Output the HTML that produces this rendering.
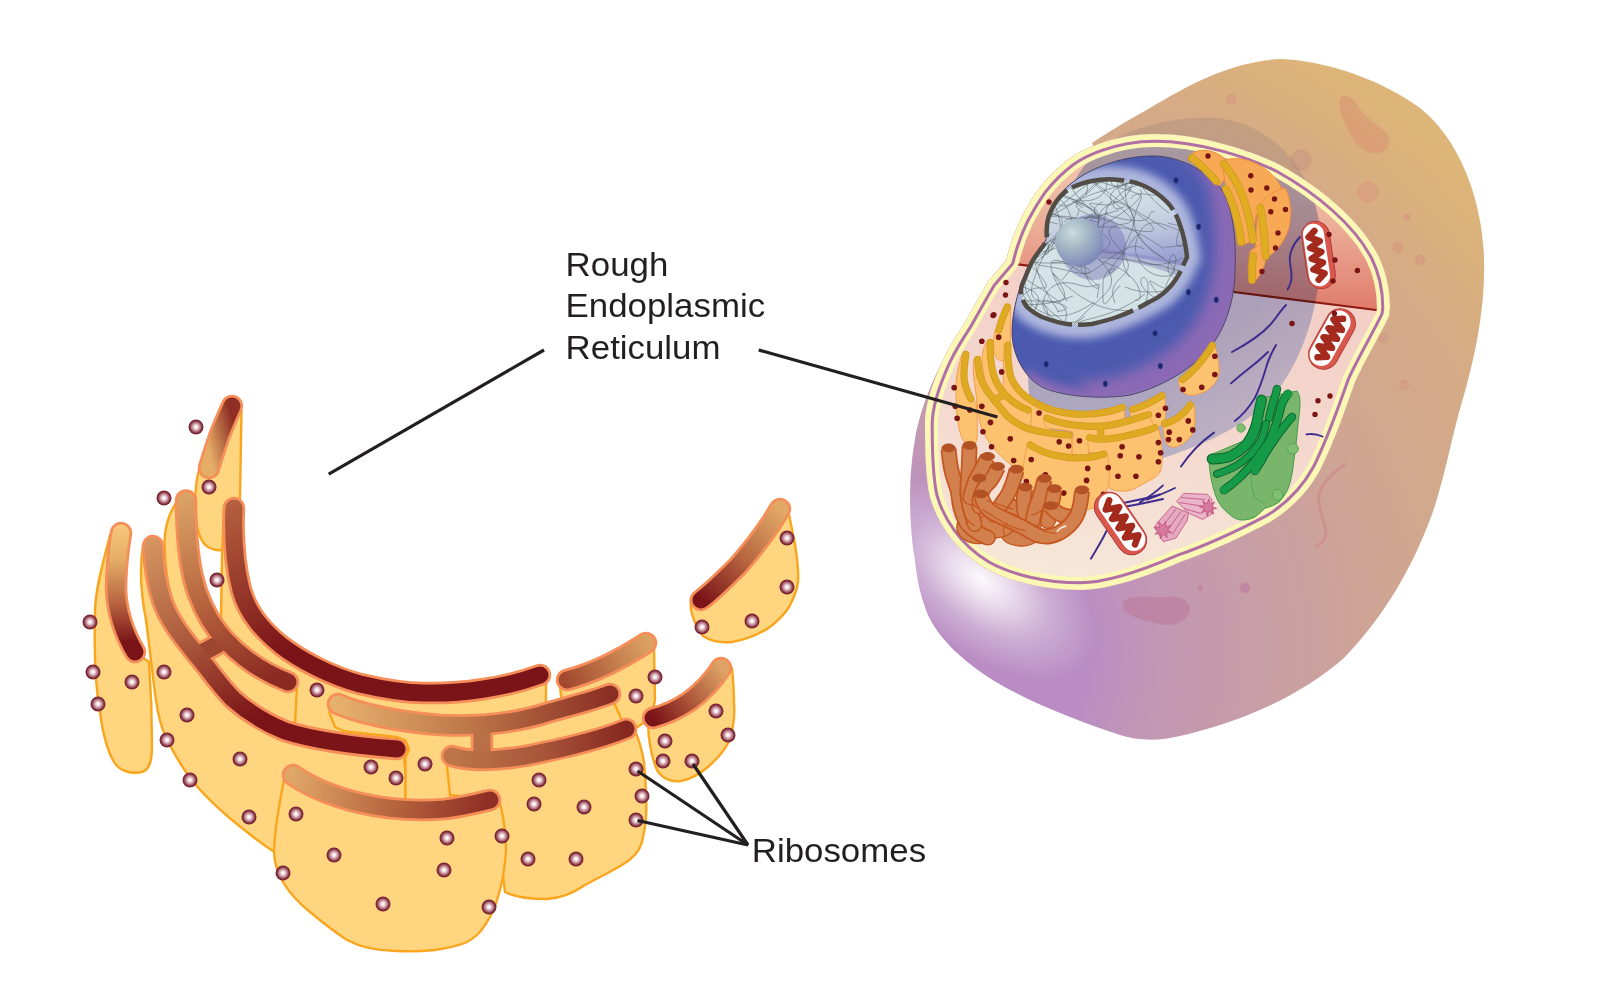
<!DOCTYPE html>
<html lang="en"><head><meta charset="utf-8"><title>Rough Endoplasmic Reticulum</title>
<style>html,body{margin:0;padding:0;background:#fff}svg{display:block}</style></head>
<body>
<svg width="1600" height="1006" viewBox="0 0 1600 1006">
<defs>
<linearGradient id="lgA" gradientUnits="userSpaceOnUse" x1="206" y1="440" x2="236" y2="432"><stop offset="0" stop-color="#E4AC66"/><stop offset="1" stop-color="#8E2E24"/></linearGradient>
<linearGradient id="lgB" gradientUnits="userSpaceOnUse" x1="120" y1="528" x2="130" y2="655"><stop offset="0" stop-color="#F6C578"/><stop offset="0.25" stop-color="#E4AC66"/><stop offset="0.6" stop-color="#B5603E"/><stop offset="0.9" stop-color="#7A1418"/></linearGradient>
<linearGradient id="lgE" gradientUnits="userSpaceOnUse" x1="234" y1="500" x2="330" y2="670"><stop offset="0" stop-color="#B5603E"/><stop offset="0.8" stop-color="#7A1418"/><stop offset="1" stop-color="#7A1418"/></linearGradient>
<linearGradient id="lgD" gradientUnits="userSpaceOnUse" x1="186" y1="495" x2="270" y2="680"><stop offset="0" stop-color="#DCA366"/><stop offset="0.5" stop-color="#B8663F"/><stop offset="1" stop-color="#8A2A22"/></linearGradient>
<linearGradient id="lgC" gradientUnits="userSpaceOnUse" x1="152" y1="540" x2="270" y2="720"><stop offset="0" stop-color="#D49560"/><stop offset="0.5" stop-color="#A9563A"/><stop offset="0.95" stop-color="#7A1418"/><stop offset="1" stop-color="#7A1418"/></linearGradient>
<linearGradient id="lgCD" gradientUnits="userSpaceOnUse" x1="152" y1="540" x2="270" y2="720"><stop offset="0" stop-color="#9C4631"/><stop offset="1" stop-color="#9C4631"/></linearGradient>
<linearGradient id="lgI" gradientUnits="userSpaceOnUse" x1="565" y1="680" x2="648" y2="642"><stop offset="0" stop-color="#A2492F"/><stop offset="1" stop-color="#DDA262"/></linearGradient>
<linearGradient id="lgG" gradientUnits="userSpaceOnUse" x1="338" y1="704" x2="610" y2="694"><stop offset="0" stop-color="#E6B06C"/><stop offset="0.45" stop-color="#C07A4A"/><stop offset="1" stop-color="#8B2F24"/></linearGradient>
<linearGradient id="lgH" gradientUnits="userSpaceOnUse" x1="452" y1="756" x2="626" y2="729"><stop offset="0" stop-color="#BD7547"/><stop offset="0.5" stop-color="#A9563A"/><stop offset="1" stop-color="#86281F"/></linearGradient>
<linearGradient id="lgGH" gradientUnits="userSpaceOnUse" x1="338" y1="704" x2="610" y2="694"><stop offset="0" stop-color="#BA7046"/><stop offset="1" stop-color="#BA7046"/></linearGradient>
<linearGradient id="lgF" gradientUnits="userSpaceOnUse" x1="293" y1="775" x2="490" y2="800"><stop offset="0" stop-color="#DFA667"/><stop offset="0.5" stop-color="#B8663F"/><stop offset="1" stop-color="#8E2E24"/></linearGradient>
<linearGradient id="lgJ" gradientUnits="userSpaceOnUse" x1="701" y1="600" x2="780" y2="510"><stop offset="0" stop-color="#7A1418"/><stop offset="0.5" stop-color="#B8663F"/><stop offset="1" stop-color="#E1A866"/></linearGradient>
<linearGradient id="lgK" gradientUnits="userSpaceOnUse" x1="653" y1="718" x2="721" y2="668"><stop offset="0" stop-color="#7A1418"/><stop offset="0.5" stop-color="#B0593B"/><stop offset="1" stop-color="#DDA265"/></linearGradient>
<radialGradient id="ribo" cx="0.5" cy="0.5" r="0.5"><stop offset="0" stop-color="#fff"/><stop offset="0.16" stop-color="#fbf3f4"/><stop offset="0.5" stop-color="#c795a0"/><stop offset="0.8" stop-color="#86303f"/><stop offset="1" stop-color="#701c2a"/></radialGradient>

<radialGradient id="bodyg" gradientUnits="userSpaceOnUse" cx="950" cy="650" r="700">
 <stop offset="0" stop-color="#B98DC3"/><stop offset="0.2" stop-color="#B98DC3"/><stop offset="0.3" stop-color="#C297B4"/><stop offset="0.43" stop-color="#C79DA8"/>
 <stop offset="0.575" stop-color="#CDA398"/><stop offset="0.74" stop-color="#D3A98B"/><stop offset="0.82" stop-color="#D5AA87"/><stop offset="0.93" stop-color="#DAB07D"/><stop offset="1" stop-color="#DEB578"/></radialGradient>
<radialGradient id="bodyhl" gradientUnits="userSpaceOnUse" cx="0" cy="0" r="1" gradientTransform="translate(981,579) rotate(38) scale(135,72)">
 <stop offset="0" stop-color="#fff" stop-opacity="0.95"/><stop offset="0.25" stop-color="#fff" stop-opacity="0.7"/><stop offset="0.6" stop-color="#fff" stop-opacity="0.28"/><stop offset="1" stop-color="#fff" stop-opacity="0"/></radialGradient>
<linearGradient id="cytog" gradientUnits="userSpaceOnUse" x1="1150" y1="280" x2="1100" y2="590">
 <stop offset="0" stop-color="#F3CFC6"/><stop offset="0.5" stop-color="#F4D9CF"/><stop offset="1" stop-color="#F6E8D8"/></linearGradient>
<linearGradient id="wallg" gradientUnits="userSpaceOnUse" x1="1180" y1="140" x2="1180" y2="310">
 <stop offset="0" stop-color="#F2CDB2"/><stop offset="0.5" stop-color="#EBAE98"/><stop offset="1" stop-color="#E17C6C"/></linearGradient>
<linearGradient id="shadg" gradientUnits="userSpaceOnUse" x1="1120" y1="200" x2="1290" y2="420">
 <stop offset="0" stop-color="#B1C2EB"/><stop offset="0.6" stop-color="#B5C5EE"/><stop offset="1" stop-color="#CBD5F2"/></linearGradient>
<linearGradient id="nucg" gradientUnits="userSpaceOnUse" x1="1040" y1="310" x2="1240" y2="255">
 <stop offset="0" stop-color="#5262B6"/><stop offset="0.6" stop-color="#4C5BAF"/><stop offset="0.85" stop-color="#8266B3"/><stop offset="1" stop-color="#8E6DB6"/></linearGradient>
<radialGradient id="nuchl" gradientUnits="userSpaceOnUse" cx="1040" cy="392" r="85">
 <stop offset="0" stop-color="#C3CCE4" stop-opacity="0.9"/><stop offset="0.5" stop-color="#AEB8DA" stop-opacity="0.5"/><stop offset="1" stop-color="#AEB8DA" stop-opacity="0"/></radialGradient>
<linearGradient id="upg" gradientUnits="userSpaceOnUse" x1="1112" y1="190" x2="1122" y2="262">
 <stop offset="0" stop-color="#AEB4DA" stop-opacity="0"/><stop offset="0.35" stop-color="#AEB4DA" stop-opacity="0.25"/><stop offset="1" stop-color="#989ED2" stop-opacity="0.95"/></linearGradient>
<radialGradient id="nucleolus" cx="0.35" cy="0.3" r="0.75">
 <stop offset="0" stop-color="#CBDCDA"/><stop offset="0.45" stop-color="#A3B6C4"/><stop offset="1" stop-color="#7C86BA"/></radialGradient>
<clipPath id="membclip"><path d="M1155,134 C1200,134 1250,150 1280,165 C1320,187 1360,220 1378,255 C1388,275 1390,295 1390,308 L1389,316 C1380,335 1365,360 1355,382 C1345,410 1335,440 1320,470 C1308,492 1290,510 1270,522 C1245,535 1215,550 1180,562 C1150,575 1110,590 1080,590 C1045,590 1010,582 985,568 C955,550 937,522 930,497 C926,480 925,450 925,425 C925,408 930,388 943.7,358.6 C950,345 957,335 964.6,322.8 C972,310 980,295 988.4,281 L1006.3,260 C1009,248 1014,233 1021,218.4 C1028,205 1033,197 1039,188.6 C1047,178 1057,168 1069,158.8 C1080,151 1090,147 1098.8,143.9 C1115,138 1135,134 1155,134 Z"/></clipPath>

</defs>
<rect width="1600" height="1006" fill="#fff"/>
<g id="erbig">
<path d="M232,406 C228,415 222,428 218,440 C214,452 211,461 209,468 L199,470 C195.5,482 194,505 196,520 C198,535 203,544 208,547 C213,550 220,551 226,549 L238,542 L240,497 L241.5,410 Z" fill="#FFD580" stroke="#F9A61E" stroke-width="2.4" stroke-linejoin="round"/>
<path d="M232,406 C228,415 222,428 218,440 C214,452 211,461 209,468" fill="none" stroke="#F58E58" stroke-width="22.5" stroke-linecap="round"/>
<path d="M232,406 C228,415 222,428 218,440 C214,452 211,461 209,468" fill="none" stroke="url(#lgA)" stroke-width="17" stroke-linecap="round"/>
<path d="M121,533 C118,552 116,570 116,590 C117,610 122,630 135,652 L149,662 C151,690 152,715 152,745 C152,760 150,770 142,772 C132,774 120,772 114,762 C108,752 103,735 100,712 C96,690 94,650 95,610 C96,585 104,560 110,535 Z" fill="#FFD580" stroke="#F9A61E" stroke-width="2.4" stroke-linejoin="round"/>
<path d="M121,533 C118,552 116,570 116,590 C117,610 122,630 135,652" fill="none" stroke="#F58E58" stroke-width="22.5" stroke-linecap="round"/>
<path d="M121,533 C118,552 116,570 116,590 C117,610 122,630 135,652" fill="none" stroke="url(#lgB)" stroke-width="17" stroke-linecap="round"/>
<path d="M234,508 C233,531 234,562 241,590 C248,614 262,630 281,645.5 C300,660 330,676 360,684 C385,690 405,693 425,693 C460,694 505,688 540,675 L546,679 L546,704 L500,722 L440,725 L345,706 L345,742 L290,732 L291,683 L258,668 L232,648 L221,630 L221,615 L222,555 L224,508 Z" fill="#FFD580" stroke="#F9A61E" stroke-width="2.4" stroke-linejoin="round"/>
<path d="M234,508 C233,531 234,562 241,590 C248,614 262,630 281,645.5 C300,660 330,676 360,684 C385,690 405,693 425,693 C460,694 505,688 540,675" fill="none" stroke="#F58E58" stroke-width="22.5" stroke-linecap="round"/>
<path d="M234,508 C233,531 234,562 241,590 C248,614 262,630 281,645.5 C300,660 330,676 360,684 C385,690 405,693 425,693 C460,694 505,688 540,675" fill="none" stroke="url(#lgE)" stroke-width="17" stroke-linecap="round"/>
<path d="M186,500.5 C186,521 187,542 190,562 C193,585 200,603 210,620 C220,636 232,648 245,658 C258,668 272,676 288,682 L297,687 L295,724 L268,724 L233,699 L196,654 L178,625 L174,606 C169,592 165,567 164.5,542 C165,526 170,512 176,503 Z" fill="#FFD580" stroke="#F9A61E" stroke-width="2.4" stroke-linejoin="round"/>
<path d="M153,546 C154,566 157,585 162,600 C168,618 178,632 196,654 C208,668 220,686 233,699 C250,714 268,724 285,731 C310,739 345,745 397,749 L404,756 L406,780 L405,800 L400,830 L300,860 L276,853 C266,847 258,841 247,832 C225,815 205,797 192,780 C180,765 172,750 166,737 C161,727 158,715 156,700 C153,680 150,650 146,620 C140,590 140,565 143,545 Z" fill="#FFD580" stroke="#F9A61E" stroke-width="2.4" stroke-linejoin="round"/>
<path d="M186,500.5 C186,521 187,542 190,562 C193,585 200,603 210,620 C220,636 232,648 245,658 C258,668 272,676 288,682" fill="none" stroke="#F58E58" stroke-width="22.5" stroke-linecap="round"/>
<path d="M153,546 C154,566 157,585 162,600 C168,618 178,632 196,654 C208,668 220,686 233,699 C250,714 268,724 285,731 C310,739 345,745 397,749" fill="none" stroke="#F58E58" stroke-width="22.5" stroke-linecap="round"/>
<path d="M198,655 L224,641" fill="none" stroke="#F58E58" stroke-width="22.5" stroke-linecap="round"/>
<path d="M198,655 L224,641" fill="none" stroke="url(#lgCD)" stroke-width="17" stroke-linecap="round"/>
<path d="M186,500.5 C186,521 187,542 190,562 C193,585 200,603 210,620 C220,636 232,648 245,658 C258,668 272,676 288,682" fill="none" stroke="url(#lgD)" stroke-width="17" stroke-linecap="round"/>
<path d="M153,546 C154,566 157,585 162,600 C168,618 178,632 196,654 C208,668 220,686 233,699 C250,714 268,724 285,731 C310,739 345,745 397,749" fill="none" stroke="url(#lgC)" stroke-width="17" stroke-linecap="round"/>
<path d="M567,680 C590,674 620,660 646,643 L654,648 L655,700 C653,712 646,722 636,728 L600,735 L563,715 L560,686 Z" fill="#FFD580" stroke="#F9A61E" stroke-width="2.4" stroke-linejoin="round"/>
<path d="M567,680 C590,674 620,660 646,643" fill="none" stroke="#F58E58" stroke-width="22.5" stroke-linecap="round"/>
<path d="M567,680 C590,674 620,660 646,643" fill="none" stroke="url(#lgI)" stroke-width="17" stroke-linecap="round"/>
<path d="M338,704 C360,714 400,722 440,725 C480,727 520,722 550,712 C575,705 595,700 610,694 L626,729 L575,745 L525,756 L452,756 L450,806 L405.5,806 L405.5,757.5 L409,749 L405.5,740.5 L397,737 L345,731.5 L335,727 L329,712 Z" fill="#FFD580" stroke="#F9A61E" stroke-width="2.4" stroke-linejoin="round"/>
<path d="M452,756 C470,762 500,760 525,756 C545,752 560,749 575,745 C595,740 612,735 626,729 L635,731 C639,740 642,750 644,762 C645,772 646,785 646,800 C647,812 646,825 642,842 C640,850 634,858 622,865 C612,871 600,877 585,885 C575,892 562,898 547,899 C530,899 515,897 505,892 L500,850 L495,800 L450,795 L447,766 Z" fill="#FFD580" stroke="#F9A61E" stroke-width="2.4" stroke-linejoin="round"/>
<path d="M338,704 C360,714 400,722 440,725 C480,727 520,722 550,712 C575,705 595,700 610,694" fill="none" stroke="#F58E58" stroke-width="22.5" stroke-linecap="round"/>
<path d="M452,756 C470,762 500,760 525,756 C545,752 560,749 575,745 C595,740 612,735 626,729" fill="none" stroke="#F58E58" stroke-width="22.5" stroke-linecap="round"/>
<path d="M482,728 L482,752" fill="none" stroke="#F58E58" stroke-width="22.5" stroke-linecap="round"/>
<path d="M482,728 L482,752" fill="none" stroke="url(#lgGH)" stroke-width="17" stroke-linecap="round"/>
<path d="M338,704 C360,714 400,722 440,725 C480,727 520,722 550,712 C575,705 595,700 610,694" fill="none" stroke="url(#lgG)" stroke-width="17" stroke-linecap="round"/>
<path d="M452,756 C470,762 500,760 525,756 C545,752 560,749 575,745 C595,740 612,735 626,729" fill="none" stroke="url(#lgH)" stroke-width="17" stroke-linecap="round"/>
<path d="M293,775 C310,787 335,797 360,803 C390,810 420,811 445,809 C462,807 478,803 490,800 L499,799 L502,812 C504,822 506,835 506,850 C505,868 502,885 497,900 C495,908 491,916 485,925 C481,932 476,937 467,942 C459,946 448,948 435,950 C425,951 412,952 397,951 C380,951 362,948 347,940 C335,932 322,922 310,912 C300,904 290,894 283,882 C277,872 274,862 274,850 C275,825 280,800 284,780 Z" fill="#FFD580" stroke="#F9A61E" stroke-width="2.4" stroke-linejoin="round"/>
<path d="M293,775 C310,787 335,797 360,803 C390,810 420,811 445,809 C462,807 478,803 490,800" fill="none" stroke="#F58E58" stroke-width="22.5" stroke-linecap="round"/>
<path d="M293,775 C310,787 335,797 360,803 C390,810 420,811 445,809 C462,807 478,803 490,800" fill="none" stroke="url(#lgF)" stroke-width="17" stroke-linecap="round"/>
<path d="M701,600 C712,592 724,580 738,566 C752,550 764,534 772,522 C775,517 778,512 780,509 L787,506 C790,518 792,530 795,544 C797,557 799,570 798,582 C797,590 794,598 789,607 C784,615 777,622 767,629 C757,635 745,640 732,642 C722,643 712,642 703,636 C698,631 695,624 692,614 C691,610 690,606 691,598 Z" fill="#FFD580" stroke="#F9A61E" stroke-width="2.4" stroke-linejoin="round"/>
<path d="M701,600 C712,592 724,580 738,566 C752,550 764,534 772,522 C775,517 778,512 780,509" fill="none" stroke="#F58E58" stroke-width="22.5" stroke-linecap="round"/>
<path d="M701,600 C712,592 724,580 738,566 C752,550 764,534 772,522 C775,517 778,512 780,509" fill="none" stroke="url(#lgJ)" stroke-width="17" stroke-linecap="round"/>
<path d="M653,718 C665,715 678,709 690,701 C702,692 712,682 721,668 L732,668 C733,678 734,690 734,703 C735,716 733,730 729,741 C725,750 718,758 709,766 C701,773 692,779 681,781 C673,782 665,780 659,773 C655,768 653,760 651,750 C649,741 648,732 648,722 Z" fill="#FFD580" stroke="#F9A61E" stroke-width="2.4" stroke-linejoin="round"/>
<path d="M653,718 C665,715 678,709 690,701 C702,692 712,682 721,668" fill="none" stroke="#F58E58" stroke-width="22.5" stroke-linecap="round"/>
<path d="M653,718 C665,715 678,709 690,701 C702,692 712,682 721,668" fill="none" stroke="url(#lgK)" stroke-width="17" stroke-linecap="round"/>
<circle cx="196" cy="427" r="7.5" fill="url(#ribo)"/>
<circle cx="209" cy="487" r="7.5" fill="url(#ribo)"/>
<circle cx="164" cy="498" r="7.5" fill="url(#ribo)"/>
<circle cx="217" cy="580" r="7.5" fill="url(#ribo)"/>
<circle cx="90" cy="622" r="7.5" fill="url(#ribo)"/>
<circle cx="93" cy="672" r="7.5" fill="url(#ribo)"/>
<circle cx="132" cy="682" r="7.5" fill="url(#ribo)"/>
<circle cx="98" cy="704" r="7.5" fill="url(#ribo)"/>
<circle cx="164" cy="672" r="7.5" fill="url(#ribo)"/>
<circle cx="187" cy="715" r="7.5" fill="url(#ribo)"/>
<circle cx="167" cy="740" r="7.5" fill="url(#ribo)"/>
<circle cx="240" cy="759" r="7.5" fill="url(#ribo)"/>
<circle cx="190" cy="780" r="7.5" fill="url(#ribo)"/>
<circle cx="317" cy="690" r="7.5" fill="url(#ribo)"/>
<circle cx="371" cy="767" r="7.5" fill="url(#ribo)"/>
<circle cx="396" cy="778" r="7.5" fill="url(#ribo)"/>
<circle cx="425" cy="764" r="7.5" fill="url(#ribo)"/>
<circle cx="249" cy="817" r="7.5" fill="url(#ribo)"/>
<circle cx="296" cy="814" r="7.5" fill="url(#ribo)"/>
<circle cx="447" cy="838" r="7.5" fill="url(#ribo)"/>
<circle cx="502" cy="836" r="7.5" fill="url(#ribo)"/>
<circle cx="334" cy="855" r="7.5" fill="url(#ribo)"/>
<circle cx="444" cy="870" r="7.5" fill="url(#ribo)"/>
<circle cx="283" cy="873" r="7.5" fill="url(#ribo)"/>
<circle cx="383" cy="904" r="7.5" fill="url(#ribo)"/>
<circle cx="489" cy="907" r="7.5" fill="url(#ribo)"/>
<circle cx="539" cy="780" r="7.5" fill="url(#ribo)"/>
<circle cx="534" cy="804" r="7.5" fill="url(#ribo)"/>
<circle cx="584" cy="807" r="7.5" fill="url(#ribo)"/>
<circle cx="528" cy="859" r="7.5" fill="url(#ribo)"/>
<circle cx="576" cy="859" r="7.5" fill="url(#ribo)"/>
<circle cx="636" cy="769" r="7.5" fill="url(#ribo)"/>
<circle cx="642" cy="796" r="7.5" fill="url(#ribo)"/>
<circle cx="636" cy="820" r="7.5" fill="url(#ribo)"/>
<circle cx="787" cy="538" r="7.5" fill="url(#ribo)"/>
<circle cx="787" cy="587" r="7.5" fill="url(#ribo)"/>
<circle cx="752" cy="621" r="7.5" fill="url(#ribo)"/>
<circle cx="702" cy="627" r="7.5" fill="url(#ribo)"/>
<circle cx="655" cy="677" r="7.5" fill="url(#ribo)"/>
<circle cx="636" cy="696" r="7.5" fill="url(#ribo)"/>
<circle cx="716" cy="711" r="7.5" fill="url(#ribo)"/>
<circle cx="728" cy="735" r="7.5" fill="url(#ribo)"/>
<circle cx="665" cy="741" r="7.5" fill="url(#ribo)"/>
<circle cx="663" cy="761" r="7.5" fill="url(#ribo)"/>
<circle cx="692" cy="761" r="7.5" fill="url(#ribo)"/>
</g>
<path d="M1280,59 C1330,61 1385,82 1420,108 C1458,138 1481,195 1484,255 C1486,320 1470,375 1457,420 C1447,460 1440,495 1428,525 C1412,565 1388,612 1345,657 C1300,697 1240,722 1180,736 C1160,741 1138,741 1120,735 C1080,722 1022,700 985,675 C960,658 938,637 928,615 C921,598 917,580 915,560 C908,520 909,470 915,440 C917,425 925,395 942,362 L990,290 L1015,262 L1050,185 L1095,150 L1092,143 C1105,134 1125,122 1150,108 C1190,84 1230,62 1280,59 Z" fill="url(#bodyg)"/>
<path d="M1280,59 C1330,61 1385,82 1420,108 C1458,138 1481,195 1484,255 C1486,320 1470,375 1457,420 C1447,460 1440,495 1428,525 C1412,565 1388,612 1345,657 C1300,697 1240,722 1180,736 C1160,741 1138,741 1120,735 C1080,722 1022,700 985,675 C960,658 938,637 928,615 C921,598 917,580 915,560 C908,520 909,470 915,440 C917,425 925,395 942,362 L990,290 L1015,262 L1050,185 L1095,150 L1092,143 C1105,134 1125,122 1150,108 C1190,84 1230,62 1280,59 Z" fill="url(#bodyhl)"/>
<g>
<circle cx="1231" cy="99" r="4.5" fill="#D79C80" fill-opacity="0.8" stroke="#C98A78" stroke-opacity="0.5" stroke-width="0.8"/>
<circle cx="1301" cy="160" r="10" fill="#C99684" fill-opacity="0.55" stroke="#C98A78" stroke-opacity="0.5" stroke-width="0.8"/>
<circle cx="1368" cy="192" r="10" fill="#DDA080" fill-opacity="0.8" stroke="#C98A78" stroke-opacity="0.5" stroke-width="0.8"/>
<circle cx="1407" cy="217" r="3" fill="#D79C80" fill-opacity="0.8" stroke="#C98A78" stroke-opacity="0.5" stroke-width="0.8"/>
<circle cx="1398" cy="247" r="5" fill="#D79C80" fill-opacity="0.8" stroke="#C98A78" stroke-opacity="0.5" stroke-width="0.8"/>
<circle cx="1420" cy="260" r="4.5" fill="#D79C80" fill-opacity="0.8" stroke="#C98A78" stroke-opacity="0.5" stroke-width="0.8"/>
<circle cx="1383" cy="338" r="4.5" fill="#D49A86" fill-opacity="0.7" stroke="#C98A78" stroke-opacity="0.5" stroke-width="0.8"/>
<circle cx="1404" cy="385" r="4.5" fill="#D49A86" fill-opacity="0.7" stroke="#C98A78" stroke-opacity="0.5" stroke-width="0.8"/>
<circle cx="1200" cy="587.5" r="2.6" fill="#C083A4" fill-opacity="0.85" stroke="#C98A78" stroke-opacity="0.5" stroke-width="0.8"/>
<circle cx="1245" cy="588" r="5" fill="#C083A4" fill-opacity="0.85" stroke="#C98A78" stroke-opacity="0.5" stroke-width="0.8"/>
<path d="M1341,97 C1347,94 1354,98 1358,106 C1364,118 1378,124 1387,134 C1392,142 1388,152 1378,153 C1366,154 1356,146 1350,134 C1344,122 1336,106 1341,97 Z" fill="#D99A74" opacity="0.75"/>
<path d="M1125,600 C1135,594 1150,598 1165,597 C1180,595 1190,600 1190,610 C1188,620 1178,626 1165,625 C1150,622 1130,618 1124,610 C1122,606 1122,603 1125,600 Z" fill="#BD7E9E" opacity="0.7"/>
<path d="M1344,465 C1334,472 1322,482 1319,495 C1317,510 1325,520 1326,532 C1326,540 1320,545 1316,546" fill="none" stroke="#CC9089" stroke-width="3" stroke-linecap="round" opacity="0.9"/>
</g>
<path d="M1085,165 C1110,130 1170,116 1215,118 C1270,122 1318,170 1321,240 C1322,300 1305,360 1270,400 C1235,435 1180,455 1120,470 C1080,478 1040,440 1030,400 C1020,340 1050,210 1085,165 Z" fill="#7A6A78" opacity="0.2"/>
<path d="M1155,134 C1200,134 1250,150 1280,165 C1320,187 1360,220 1378,255 C1388,275 1390,295 1390,308 L1389,316 C1380,335 1365,360 1355,382 C1345,410 1335,440 1320,470 C1308,492 1290,510 1270,522 C1245,535 1215,550 1180,562 C1150,575 1110,590 1080,590 C1045,590 1010,582 985,568 C955,550 937,522 930,497 C926,480 925,450 925,425 C925,408 930,388 943.7,358.6 C950,345 957,335 964.6,322.8 C972,310 980,295 988.4,281 L1006.3,260 C1009,248 1014,233 1021,218.4 C1028,205 1033,197 1039,188.6 C1047,178 1057,168 1069,158.8 C1080,151 1090,147 1098.8,143.9 C1115,138 1135,134 1155,134 Z" fill="url(#cytog)"/>
<g clip-path="url(#membclip)">
<path d="M980,100 L1420,100 L1420,316 L1390,312 L1234,292 L1005,262 L980,290 Z" fill="url(#wallg)"/>
<path d="M1004,262.5 L1234,292 L1392,312" fill="none" stroke="#8E1B12" stroke-width="2.2"/>
</g>
<g clip-path="url(#membclip)" style="mix-blend-mode:multiply"><path d="M1085,165 C1110,130 1170,116 1215,118 C1270,122 1318,170 1321,240 C1322,300 1305,360 1270,400 C1235,435 1180,455 1120,470 C1080,478 1040,440 1030,400 C1020,340 1050,210 1085,165 Z" fill="url(#shadg)"/></g>
<g clip-path="url(#membclip)">
<path d="M1155,134 C1200,134 1250,150 1280,165 C1320,187 1360,220 1378,255 C1388,275 1390,295 1390,308 L1389,316 C1380,335 1365,360 1355,382 C1345,410 1335,440 1320,470 C1308,492 1290,510 1270,522 C1245,535 1215,550 1180,562 C1150,575 1110,590 1080,590 C1045,590 1010,582 985,568 C955,550 937,522 930,497 C926,480 925,450 925,425 C925,408 930,388 943.7,358.6 C950,345 957,335 964.6,322.8 C972,310 980,295 988.4,281 L1006.3,260 C1009,248 1014,233 1021,218.4 C1028,205 1033,197 1039,188.6 C1047,178 1057,168 1069,158.8 C1080,151 1090,147 1098.8,143.9 C1115,138 1135,134 1155,134 Z" fill="none" stroke="#FBF7B4" stroke-width="26" stroke-linejoin="round"/>
<path d="M1155,134 C1200,134 1250,150 1280,165 C1320,187 1360,220 1378,255 C1388,275 1390,295 1390,308 L1389,316 C1380,335 1365,360 1355,382 C1345,410 1335,440 1320,470 C1308,492 1290,510 1270,522 C1245,535 1215,550 1180,562 C1150,575 1110,590 1080,590 C1045,590 1010,582 985,568 C955,550 937,522 930,497 C926,480 925,450 925,425 C925,408 930,388 943.7,358.6 C950,345 957,335 964.6,322.8 C972,310 980,295 988.4,281 L1006.3,260 C1009,248 1014,233 1021,218.4 C1028,205 1033,197 1039,188.6 C1047,178 1057,168 1069,158.8 C1080,151 1090,147 1098.8,143.9 C1115,138 1135,134 1155,134 Z" fill="none" stroke="#B16FA6" stroke-width="17.4" stroke-linejoin="round"/>
<path d="M1155,134 C1200,134 1250,150 1280,165 C1320,187 1360,220 1378,255 C1388,275 1390,295 1390,308 L1389,316 C1380,335 1365,360 1355,382 C1345,410 1335,440 1320,470 C1308,492 1290,510 1270,522 C1245,535 1215,550 1180,562 C1150,575 1110,590 1080,590 C1045,590 1010,582 985,568 C955,550 937,522 930,497 C926,480 925,450 925,425 C925,408 930,388 943.7,358.6 C950,345 957,335 964.6,322.8 C972,310 980,295 988.4,281 L1006.3,260 C1009,248 1014,233 1021,218.4 C1028,205 1033,197 1039,188.6 C1047,178 1057,168 1069,158.8 C1080,151 1090,147 1098.8,143.9 C1115,138 1135,134 1155,134 Z" fill="none" stroke="#FBF7B4" stroke-width="11.4" stroke-linejoin="round"/>
</g>
<clipPath id="nucclip"><path d="M1150,156 C1175,155 1205,168 1222,190 C1235,210 1236,250 1235,270 C1235,300 1225,328 1212,345 C1195,368 1160,388 1130,395 C1100,400 1060,396 1042,387 C1025,378 1012,355 1012,332 C1012,315 1017,295 1022,282 C1030,262 1040,250 1046,240 C1046,225 1050,205 1062,192 C1080,172 1115,157 1150,156 Z"/></clipPath>
<clipPath id="innerclip"><path d="M1047,240 C1046,228 1047,220 1050,213 C1054,203 1059,197 1065,192 C1073,186 1082,183 1092,181 C1101,179 1111,179 1120,180 C1128,181 1135,182 1142,185 C1152,189 1160,195 1167,202 C1173,208 1177,216 1180,225 C1184,236 1186,247 1187,257 L1182,268  C1178,277 1173,284 1167,290 C1162,295 1156,299 1149,302 C1139,308 1128,313 1117,317 C1109,320 1101,322 1092,324 C1084,325 1075,325 1067,324 C1058,323 1050,320 1042,317 C1036,314 1031,311 1027,307 C1023,302 1021,296 1021,290 C1021,286 1023,282 1025,278 C1028,270 1031,263 1035,257 C1039,251 1043,246 1047,241 Z"/></clipPath>
<filter id="blur7" x="-20%" y="-20%" width="140%" height="140%"><feGaussianBlur stdDeviation="7"/></filter>
<filter id="blur2" x="-20%" y="-20%" width="140%" height="140%"><feGaussianBlur stdDeviation="1.5"/></filter>
<filter id="blur4" x="-20%" y="-20%" width="140%" height="140%"><feGaussianBlur stdDeviation="4"/></filter>
<path d="M1150,156 C1175,155 1205,168 1222,190 C1235,210 1236,250 1235,270 C1235,300 1225,328 1212,345 C1195,368 1160,388 1130,395 C1100,400 1060,396 1042,387 C1025,378 1012,355 1012,332 C1012,315 1017,295 1022,282 C1030,262 1040,250 1046,240 C1046,225 1050,205 1062,192 C1080,172 1115,157 1150,156 Z" fill="#8B69B5"/>
<g clip-path="url(#nucclip)">
<path d="M1150,156 C1175,155 1205,168 1222,190 C1235,210 1236,250 1235,270 C1235,300 1225,328 1212,345 C1195,368 1160,388 1130,395 C1100,400 1060,396 1042,387 C1025,378 1012,355 1012,332 C1012,315 1017,295 1022,282 C1030,262 1040,250 1046,240 C1046,225 1050,205 1062,192 C1080,172 1115,157 1150,156 Z" fill="#4B5AAF" transform="translate(-21,-17)" filter="url(#blur7)"/>
<path d="M1000,300 L1040,300 L1100,420 L1000,420 Z" fill="#4B5AAF" filter="url(#blur7)"/>
<path d="M1022,378 C1040,394 1070,400 1100,401 C1140,400 1178,382 1204,358" fill="none" stroke="#8B69B5" stroke-width="22" filter="url(#blur4)"/>
<path d="M1016,372 C1032,392 1068,402 1100,402 C1140,401 1180,385 1208,360" fill="none" stroke="#A9A8CC" stroke-width="7" opacity="0.8" filter="url(#blur2)"/>
<path d="M1047,240 C1046,228 1047,220 1050,213 C1054,203 1059,197 1065,192 C1073,186 1082,183 1092,181 C1101,179 1111,179 1120,180 C1128,181 1135,182 1142,185 C1152,189 1160,195 1167,202 C1173,208 1177,216 1180,225 C1184,236 1186,247 1187,257 L1182,268  C1178,277 1173,284 1167,290 C1162,295 1156,299 1149,302 C1139,308 1128,313 1117,317 C1109,320 1101,322 1092,324 C1084,325 1075,325 1067,324 C1058,323 1050,320 1042,317 C1036,314 1031,311 1027,307 C1023,302 1021,296 1021,290 C1021,286 1023,282 1025,278 C1028,270 1031,263 1035,257 C1039,251 1043,246 1047,241 Z" fill="none" stroke="#B4BCE0" stroke-width="27" filter="url(#blur4)" opacity="0.95"/>
</g>
<path d="M1150,156 C1175,155 1205,168 1222,190 C1235,210 1236,250 1235,270 C1235,300 1225,328 1212,345 C1195,368 1160,388 1130,395 C1100,400 1060,396 1042,387 C1025,378 1012,355 1012,332 C1012,315 1017,295 1022,282 C1030,262 1040,250 1046,240 C1046,225 1050,205 1062,192 C1080,172 1115,157 1150,156 Z" fill="none" stroke="#454060" stroke-width="0.9"/>
<path d="M1047,240 C1046,228 1047,220 1050,213 C1054,203 1059,197 1065,192 C1073,186 1082,183 1092,181 C1101,179 1111,179 1120,180 C1128,181 1135,182 1142,185 C1152,189 1160,195 1167,202 C1173,208 1177,216 1180,225 C1184,236 1186,247 1187,257 L1182,268  C1178,277 1173,284 1167,290 C1162,295 1156,299 1149,302 C1139,308 1128,313 1117,317 C1109,320 1101,322 1092,324 C1084,325 1075,325 1067,324 C1058,323 1050,320 1042,317 C1036,314 1031,311 1027,307 C1023,302 1021,296 1021,290 C1021,286 1023,282 1025,278 C1028,270 1031,263 1035,257 C1039,251 1043,246 1047,241 Z" fill="#D4E3E5"/>
<g clip-path="url(#innerclip)">
<path d="M1040,170 L1195,170 L1195,268 L1047,241 Z" fill="url(#upg)"/>
<path d="M1047,241 L1187,262 L1182,278 C1150,264 1110,256 1085,256 Z" fill="#8B8AC4" opacity="0.5"/>
<circle cx="1093" cy="247" r="33" fill="#6F68B2" opacity="0.42"/>
<path d="M1125,287 C1164,304 1198,270 1195,302 S1198,331 1163,329 S1140,332 1147,297 S1122,281 1159,300 S1128,321 1096,330 M1045,185 C1019,172 1063,199 1044,232 S1047,245 1021,277 S1038,310 1073,296 M1083,208 C1062,196 1090,202 1099,217 S1060,206 1042,221 S1014,219 1012,201 M1175,315 C1198,280 1198,271 1198,235 S1157,212 1198,191 S1198,221 1198,210 S1185,212 1198,184 M1145,294 C1103,326 1066,315 1076,332 S1062,332 1066,318 S1049,295 1012,270 S1029,306 1012,273 M1183,258 C1141,275 1127,257 1140,232 S1183,242 1198,230 S1172,265 1177,238 S1198,232 1168,223 M1034,243 C1030,279 1062,313 1058,312 S1078,310 1060,304 S1028,295 1072,328 M1125,253 C1097,253 1098,256 1098,225 S1125,214 1133,181 S1115,185 1130,209 S1109,244 1129,277 M1079,209 C1077,229 1061,213 1042,213 S1058,203 1038,191 S1077,185 1115,172 M1164,247 C1198,248 1198,224 1198,255 S1196,269 1198,286 S1168,306 1176,318 S1169,327 1193,332 M1140,189 C1148,198 1119,216 1091,232 S1134,267 1104,295 S1069,329 1068,332 M1091,233 C1102,240 1078,269 1033,262 S1013,255 1012,279 S1012,246 1022,217 S1026,205 1034,238 S1062,232 1090,242 M1084,204 C1074,203 1046,176 1012,200 S1027,191 1012,221 S1016,208 1049,213 S1043,247 1042,246 S1061,238 1093,213 M1120,287 C1120,280 1103,315 1103,300 S1101,273 1112,269 S1093,289 1122,254 S1125,238 1164,258 M1064,222 C1084,206 1084,242 1085,268 S1119,296 1076,269 S1056,284 1067,301 M1029,233 C1051,239 1012,222 1012,252 S1047,255 1012,275 S1012,280 1031,290 S1029,320 1019,312 S1050,290 1032,314 M1036,300 C1061,305 1074,303 1057,279 S1075,307 1117,310 S1110,313 1070,330 S1049,300 1012,332 S1012,327 1012,320 M1103,202 C1078,212 1118,228 1085,213 S1123,188 1133,181 S1103,190 1061,172 M1086,195 C1092,172 1083,181 1039,172 S1056,172 1042,183 S1080,172 1061,177 M1133,225 C1138,205 1099,186 1129,172 S1171,194 1198,191 S1188,172 1145,172 S1151,172 1184,172 S1180,172 1176,205 M1042,258 C1062,226 1031,258 1047,238 S1013,272 1028,295 S1012,304 1012,285 S1012,293 1012,285 S1012,309 1025,331 M1094,302 C1053,332 1027,309 1012,276 S1012,254 1012,285 S1027,274 1020,260 S1059,290 1043,288 S1015,299 1012,325 M1164,249 C1142,233 1111,218 1088,217 S1045,247 1034,279 S1051,291 1048,323 S1014,332 1012,332 S1033,308 1012,274 M1062,196 C1099,211 1115,188 1103,172 S1147,172 1172,172 S1146,172 1156,188 S1135,186 1131,199 M1052,190 C1058,221 1078,202 1105,173 S1102,186 1115,186 S1141,172 1171,172 S1183,199 1198,177 S1198,187 1170,172 M1173,293 C1177,324 1186,332 1160,297 S1164,296 1170,287 S1181,304 1198,290 M1097,298 C1102,272 1100,292 1079,285 S1046,288 1043,302 S1070,332 1085,316 M1104,219 C1077,204 1065,175 1058,172 S1081,176 1117,187 S1140,193 1135,215 S1149,248 1169,263 S1148,285 1138,258 M1036,208 C1035,195 1012,199 1034,172 S1012,206 1041,201 S1020,234 1012,236 S1012,214 1012,190 M1124,207 C1103,215 1115,189 1139,185 S1132,173 1128,172 S1136,172 1096,184 M1051,250 C1059,221 1088,216 1047,250 S1012,255 1012,283 S1012,262 1012,241 S1018,231 1040,212 M1081,219 C1112,244 1123,237 1090,261 S1090,228 1060,199 S1079,228 1052,249 S1036,262 1069,271 S1096,262 1052,263 M1119,210 C1076,223 1086,224 1086,227 S1103,224 1129,229 S1168,234 1129,208 S1121,241 1078,261 M1058,224 C1021,214 1028,233 1047,219 S1086,202 1106,172 S1128,184 1169,213 M1135,300 C1145,304 1143,275 1109,264 S1135,258 1177,270 S1166,288 1168,267 S1184,254 1169,279 S1198,293 1198,275 M1041,225 C1068,195 1108,172 1100,172 S1115,177 1126,187 S1130,180 1106,179 S1114,172 1107,172 M1167,230 C1125,203 1131,210 1102,188 S1111,198 1128,215 S1088,214 1118,247 S1102,272 1115,303 M1062,280 C1092,245 1108,217 1093,207 S1116,212 1111,200 S1135,177 1171,180 S1178,207 1198,197 M1155,212 C1144,209 1160,226 1123,219 S1127,210 1092,217 S1081,231 1081,264 S1121,233 1144,249 M1072,201 C1117,219 1090,208 1058,237 S1070,256 1033,228 S1025,260 1012,255 S1012,290 1012,306" fill="none" stroke="#56636C" stroke-width="1.0" opacity="0.55"/>
</g>
<circle cx="1079.5" cy="242.3" r="24" fill="url(#nucleolus)"/>
<path d="M1047,240 C1046,228 1047,220 1050,213 C1054,203 1059,197 1065,192 C1073,186 1082,183 1092,181 C1101,179 1111,179 1120,180 C1128,181 1135,182 1142,185 C1152,189 1160,195 1167,202 C1173,208 1177,216 1180,225 C1184,236 1186,247 1187,257 L1182,268" fill="none" stroke="#524C46" stroke-width="4.5" pathLength="100" stroke-dasharray="22.7 2.3" stroke-dashoffset="23.8"/>
<path d="M1182,268 C1178,277 1173,284 1167,290 C1162,295 1156,299 1149,302 C1139,308 1128,313 1117,317 C1109,320 1101,322 1092,324 C1084,325 1075,325 1067,324 C1058,323 1050,320 1042,317 C1036,314 1031,311 1027,307 C1023,302 1021,296 1021,290 C1021,286 1023,282 1025,278 C1028,270 1031,263 1035,257 C1039,251 1043,246 1047,241" fill="none" stroke="#524C46" stroke-width="4.5" pathLength="100" stroke-dasharray="22.7 2.3" stroke-dashoffset="23.8"/>
<ellipse cx="1176" cy="180.3" rx="2.3" ry="3" fill="#1B2468" stroke="#3C4AA0" stroke-width="0.7"/>
<ellipse cx="1198.7" cy="226.7" rx="2.3" ry="3" fill="#1B2468" stroke="#3C4AA0" stroke-width="0.7"/>
<ellipse cx="1188.5" cy="292.3" rx="2.3" ry="3" fill="#1B2468" stroke="#3C4AA0" stroke-width="0.7"/>
<ellipse cx="1216.2" cy="299.8" rx="2.3" ry="3" fill="#1B2468" stroke="#3C4AA0" stroke-width="0.7"/>
<ellipse cx="1155" cy="333.3" rx="2.3" ry="3" fill="#1B2468" stroke="#3C4AA0" stroke-width="0.7"/>
<ellipse cx="1160.3" cy="366" rx="2.3" ry="3" fill="#1B2468" stroke="#3C4AA0" stroke-width="0.7"/>
<ellipse cx="1046.2" cy="364.2" rx="2.3" ry="3" fill="#1B2468" stroke="#3C4AA0" stroke-width="0.7"/>
<ellipse cx="1105.3" cy="383.8" rx="2.3" ry="3" fill="#1B2468" stroke="#3C4AA0" stroke-width="0.7"/>
<g stroke-linejoin="round">
<path d="M1189,156 C1196,149 1206,149 1216,153 C1225,157 1230,164 1231,172 L1219,186 L1209,178 Z" fill="#F8A955" stroke="#EE8A3A" stroke-width="0.9"/>
<path d="M1222,161 C1232,157 1245,158 1257,164 C1270,171 1279,180 1282,190 L1282,197 L1262,204 L1256,216 L1252,241 L1241,246 L1236,215 L1226,190 Z" fill="#F8A955" stroke="#EE8A3A" stroke-width="0.9"/>
<path d="M1258,206 C1266,196 1276,190 1285,188 C1290,196 1292,210 1290,222 C1288,235 1282,245 1272,254 L1263,261 L1255,250 Z" fill="#F8A955" stroke="#EE8A3A" stroke-width="0.9"/>
<path d="M1250,251 L1262,243 C1266,250 1267,258 1264,266 C1261,274 1257,280 1252,284 L1248,270 Z" fill="#F8A955" stroke="#EE8A3A" stroke-width="0.9"/>
<path d="M1192,158 C1200,164 1208,172 1216,181" fill="none" stroke="#CE981C" stroke-width="7.8" stroke-linecap="round"/>
<path d="M1224,164 C1234,176 1242,192 1247,210 C1250,222 1252,232 1253,240" fill="none" stroke="#CE981C" stroke-width="7.8" stroke-linecap="round"/>
<path d="M1226,189 C1232,200 1236,214 1239,228 L1241,242" fill="none" stroke="#CE981C" stroke-width="7.8" stroke-linecap="round"/>
<path d="M1260.4,208 C1263,222 1265,240 1265.6,256" fill="none" stroke="#CE981C" stroke-width="7.8" stroke-linecap="round"/>
<path d="M1253,256 C1252,264 1252,272 1252,280" fill="none" stroke="#CE981C" stroke-width="7.8" stroke-linecap="round"/>
<path d="M1192,158 C1200,164 1208,172 1216,181" fill="none" stroke="#E0AC22" stroke-width="6.4" stroke-linecap="round"/>
<path d="M1224,164 C1234,176 1242,192 1247,210 C1250,222 1252,232 1253,240" fill="none" stroke="#E0AC22" stroke-width="6.4" stroke-linecap="round"/>
<path d="M1226,189 C1232,200 1236,214 1239,228 L1241,242" fill="none" stroke="#E0AC22" stroke-width="6.4" stroke-linecap="round"/>
<path d="M1260.4,208 C1263,222 1265,240 1265.6,256" fill="none" stroke="#E0AC22" stroke-width="6.4" stroke-linecap="round"/>
<path d="M1253,256 C1252,264 1252,272 1252,280" fill="none" stroke="#E0AC22" stroke-width="6.4" stroke-linecap="round"/>
<circle cx="1208" cy="156" r="2.7" fill="#7B1414"/>
<circle cx="1250.8" cy="175.8" r="2.7" fill="#7B1414"/>
<circle cx="1251" cy="190" r="2.7" fill="#7B1414"/>
<circle cx="1266.8" cy="188" r="2.7" fill="#7B1414"/>
<circle cx="1274.5" cy="199" r="2.7" fill="#7B1414"/>
<circle cx="1270.8" cy="211.8" r="2.7" fill="#7B1414"/>
<circle cx="1285.5" cy="209.5" r="2.7" fill="#7B1414"/>
<circle cx="1278" cy="233" r="2.7" fill="#7B1414"/>
<circle cx="1275.5" cy="248" r="2.7" fill="#7B1414"/>
<circle cx="1262" cy="271.5" r="2.7" fill="#7B1414"/>
</g>
<g fill="none" stroke="#3D2B8E" stroke-width="1.9" stroke-linecap="round">
<path d="M1300,237 C1292,245 1289,255 1290,262 C1291,272 1294,280 1287.6,289.4"/>
<path d="M1231,383.4 C1237,378 1242,374 1247,370 C1255,364 1262,358 1268,352"/>
<path d="M1234.8,421 C1243,415 1250,406 1254.5,398.6 C1260,388 1263,378 1266,368 C1268,360 1272,352 1276,345"/>
<path d="M1181,466.6 C1190,453 1202,441 1214,432.6"/>
<path d="M1140,502.4 C1149,497 1157,491 1163,485.4"/>
<path d="M1147,499.7 C1157,496 1167,492 1175,488"/>
<path d="M1091,558.6 C1096,550 1101,542 1105,534 C1110,524 1116,512 1121,503.5 C1133,501 1148,498 1160,494.5"/>
<path d="M1122,507 C1135,505 1150,502 1163,499"/>
<path d="M1306.4,434.4 C1312,433.5 1318,434.5 1322.5,436.5"/>
<path d="M1232,352 C1245,345 1260,336 1270,325 C1276,318 1281,310 1286,305"/>
</g>
<g id="ermini" transform="translate(920.5,155) scale(0.374)">
<path d="M232,406 C228,415 222,428 218,440 C214,452 211,461 209,468 L199,470 C195.5,482 194,505 196,520 C198,535 203,544 208,547 C213,550 220,551 226,549 L238,542 L240,497 L241.5,410 Z" fill="#FCC270" stroke="#F59A45" stroke-width="2.5" stroke-linejoin="round"/>
<path d="M232,406 C228,415 222,428 218,440 C214,452 211,461 209,468" fill="none" stroke="#D39A1E" stroke-width="19" stroke-linecap="round"/>
<path d="M232,406 C228,415 222,428 218,440 C214,452 211,461 209,468" fill="none" stroke="#DEAA22" stroke-width="15" stroke-linecap="round"/>
<path d="M121,533 C118,552 116,570 116,590 C117,610 122,630 135,652 L149,662 C151,690 152,715 152,745 C152,760 150,770 142,772 C132,774 120,772 114,762 C108,752 103,735 100,712 C96,690 94,650 95,610 C96,585 104,560 110,535 Z" fill="#FCC270" stroke="#F59A45" stroke-width="2.5" stroke-linejoin="round"/>
<path d="M121,533 C118,552 116,570 116,590 C117,610 122,630 135,652" fill="none" stroke="#D39A1E" stroke-width="19" stroke-linecap="round"/>
<path d="M121,533 C118,552 116,570 116,590 C117,610 122,630 135,652" fill="none" stroke="#DEAA22" stroke-width="15" stroke-linecap="round"/>
<path d="M234,508 C233,531 234,562 241,590 C248,614 262,630 281,645.5 C300,660 330,676 360,684 C385,690 405,693 425,693 C460,694 505,688 540,675 L546,679 L546,704 L500,722 L440,725 L345,706 L345,742 L290,732 L291,683 L258,668 L232,648 L221,630 L221,615 L222,555 L224,508 Z" fill="#FCC270" stroke="#F59A45" stroke-width="2.5" stroke-linejoin="round"/>
<path d="M234,508 C233,531 234,562 241,590 C248,614 262,630 281,645.5 C300,660 330,676 360,684 C385,690 405,693 425,693 C460,694 505,688 540,675" fill="none" stroke="#D39A1E" stroke-width="19" stroke-linecap="round"/>
<path d="M234,508 C233,531 234,562 241,590 C248,614 262,630 281,645.5 C300,660 330,676 360,684 C385,690 405,693 425,693 C460,694 505,688 540,675" fill="none" stroke="#DEAA22" stroke-width="15" stroke-linecap="round"/>
<path d="M186,500.5 C186,521 187,542 190,562 C193,585 200,603 210,620 C220,636 232,648 245,658 C258,668 272,676 288,682 L297,687 L295,724 L268,724 L233,699 L196,654 L178,625 L174,606 C169,592 165,567 164.5,542 C165,526 170,512 176,503 Z" fill="#FCC270" stroke="#F59A45" stroke-width="2.5" stroke-linejoin="round"/>
<path d="M153,546 C154,566 157,585 162,600 C168,618 178,632 196,654 C208,668 220,686 233,699 C250,714 268,724 285,731 C310,739 345,745 397,749 L404,756 L406,780 L405,800 L400,830 L300,860 L276,853 C266,847 258,841 247,832 C225,815 205,797 192,780 C180,765 172,750 166,737 C161,727 158,715 156,700 C153,680 150,650 146,620 C140,590 140,565 143,545 Z" fill="#FCC270" stroke="#F59A45" stroke-width="2.5" stroke-linejoin="round"/>
<path d="M186,500.5 C186,521 187,542 190,562 C193,585 200,603 210,620 C220,636 232,648 245,658 C258,668 272,676 288,682" fill="none" stroke="#D39A1E" stroke-width="19" stroke-linecap="round"/>
<path d="M153,546 C154,566 157,585 162,600 C168,618 178,632 196,654 C208,668 220,686 233,699 C250,714 268,724 285,731 C310,739 345,745 397,749" fill="none" stroke="#D39A1E" stroke-width="19" stroke-linecap="round"/>
<path d="M198,655 L224,641" fill="none" stroke="#D39A1E" stroke-width="19" stroke-linecap="round"/>
<path d="M186,500.5 C186,521 187,542 190,562 C193,585 200,603 210,620 C220,636 232,648 245,658 C258,668 272,676 288,682" fill="none" stroke="#DEAA22" stroke-width="15" stroke-linecap="round"/>
<path d="M153,546 C154,566 157,585 162,600 C168,618 178,632 196,654 C208,668 220,686 233,699 C250,714 268,724 285,731 C310,739 345,745 397,749" fill="none" stroke="#DEAA22" stroke-width="15" stroke-linecap="round"/>
<path d="M198,655 L224,641" fill="none" stroke="#DEAA22" stroke-width="15" stroke-linecap="round"/>
<path d="M567,680 C590,674 620,660 646,643 L654,648 L655,700 C653,712 646,722 636,728 L600,735 L563,715 L560,686 Z" fill="#FCC270" stroke="#F59A45" stroke-width="2.5" stroke-linejoin="round"/>
<path d="M567,680 C590,674 620,660 646,643" fill="none" stroke="#D39A1E" stroke-width="19" stroke-linecap="round"/>
<path d="M567,680 C590,674 620,660 646,643" fill="none" stroke="#DEAA22" stroke-width="15" stroke-linecap="round"/>
<path d="M338,704 C360,714 400,722 440,725 C480,727 520,722 550,712 C575,705 595,700 610,694 L626,729 L575,745 L525,756 L452,756 L450,806 L405.5,806 L405.5,757.5 L409,749 L405.5,740.5 L397,737 L345,731.5 L335,727 L329,712 Z" fill="#FCC270" stroke="#F59A45" stroke-width="2.5" stroke-linejoin="round"/>
<path d="M452,756 C470,762 500,760 525,756 C545,752 560,749 575,745 C595,740 612,735 626,729 L635,731 C639,740 642,750 644,762 C645,772 646,785 646,800 C647,812 646,825 642,842 C640,850 634,858 622,865 C612,871 600,877 585,885 C575,892 562,898 547,899 C530,899 515,897 505,892 L500,850 L495,800 L450,795 L447,766 Z" fill="#FCC270" stroke="#F59A45" stroke-width="2.5" stroke-linejoin="round"/>
<path d="M338,704 C360,714 400,722 440,725 C480,727 520,722 550,712 C575,705 595,700 610,694" fill="none" stroke="#D39A1E" stroke-width="19" stroke-linecap="round"/>
<path d="M452,756 C470,762 500,760 525,756 C545,752 560,749 575,745 C595,740 612,735 626,729" fill="none" stroke="#D39A1E" stroke-width="19" stroke-linecap="round"/>
<path d="M482,728 L482,752" fill="none" stroke="#D39A1E" stroke-width="19" stroke-linecap="round"/>
<path d="M338,704 C360,714 400,722 440,725 C480,727 520,722 550,712 C575,705 595,700 610,694" fill="none" stroke="#DEAA22" stroke-width="15" stroke-linecap="round"/>
<path d="M452,756 C470,762 500,760 525,756 C545,752 560,749 575,745 C595,740 612,735 626,729" fill="none" stroke="#DEAA22" stroke-width="15" stroke-linecap="round"/>
<path d="M482,728 L482,752" fill="none" stroke="#DEAA22" stroke-width="15" stroke-linecap="round"/>
<path d="M293,775 C310,787 335,797 360,803 C390,810 420,811 445,809 C462,807 478,803 490,800 L499,799 L502,812 C504,822 506,835 506,850 C505,868 502,885 497,900 C495,908 491,916 485,925 C481,932 476,937 467,942 C459,946 448,948 435,950 C425,951 412,952 397,951 C380,951 362,948 347,940 C335,932 322,922 310,912 C300,904 290,894 283,882 C277,872 274,862 274,850 C275,825 280,800 284,780 Z" fill="#FCC270" stroke="#F59A45" stroke-width="2.5" stroke-linejoin="round"/>
<path d="M293,775 C310,787 335,797 360,803 C390,810 420,811 445,809 C462,807 478,803 490,800" fill="none" stroke="#D39A1E" stroke-width="19" stroke-linecap="round"/>
<path d="M293,775 C310,787 335,797 360,803 C390,810 420,811 445,809 C462,807 478,803 490,800" fill="none" stroke="#DEAA22" stroke-width="15" stroke-linecap="round"/>
<path d="M701,600 C712,592 724,580 738,566 C752,550 764,534 772,522 C775,517 778,512 780,509 L787,506 C790,518 792,530 795,544 C797,557 799,570 798,582 C797,590 794,598 789,607 C784,615 777,622 767,629 C757,635 745,640 732,642 C722,643 712,642 703,636 C698,631 695,624 692,614 C691,610 690,606 691,598 Z" fill="#FCC270" stroke="#F59A45" stroke-width="2.5" stroke-linejoin="round"/>
<path d="M701,600 C712,592 724,580 738,566 C752,550 764,534 772,522 C775,517 778,512 780,509" fill="none" stroke="#D39A1E" stroke-width="19" stroke-linecap="round"/>
<path d="M701,600 C712,592 724,580 738,566 C752,550 764,534 772,522 C775,517 778,512 780,509" fill="none" stroke="#DEAA22" stroke-width="15" stroke-linecap="round"/>
<path d="M653,718 C665,715 678,709 690,701 C702,692 712,682 721,668 L732,668 C733,678 734,690 734,703 C735,716 733,730 729,741 C725,750 718,758 709,766 C701,773 692,779 681,781 C673,782 665,780 659,773 C655,768 653,760 651,750 C649,741 648,732 648,722 Z" fill="#FCC270" stroke="#F59A45" stroke-width="2.5" stroke-linejoin="round"/>
<path d="M653,718 C665,715 678,709 690,701 C702,692 712,682 721,668" fill="none" stroke="#D39A1E" stroke-width="19" stroke-linecap="round"/>
<path d="M653,718 C665,715 678,709 690,701 C702,692 712,682 721,668" fill="none" stroke="#DEAA22" stroke-width="15" stroke-linecap="round"/>
<circle cx="196" cy="427" r="7.5" fill="#7B1414"/>
<circle cx="209" cy="487" r="7.5" fill="#7B1414"/>
<circle cx="164" cy="498" r="7.5" fill="#7B1414"/>
<circle cx="217" cy="580" r="7.5" fill="#7B1414"/>
<circle cx="90" cy="622" r="7.5" fill="#7B1414"/>
<circle cx="93" cy="672" r="7.5" fill="#7B1414"/>
<circle cx="132" cy="682" r="7.5" fill="#7B1414"/>
<circle cx="98" cy="704" r="7.5" fill="#7B1414"/>
<circle cx="164" cy="672" r="7.5" fill="#7B1414"/>
<circle cx="187" cy="715" r="7.5" fill="#7B1414"/>
<circle cx="167" cy="740" r="7.5" fill="#7B1414"/>
<circle cx="240" cy="759" r="7.5" fill="#7B1414"/>
<circle cx="190" cy="780" r="7.5" fill="#7B1414"/>
<circle cx="317" cy="690" r="7.5" fill="#7B1414"/>
<circle cx="371" cy="767" r="7.5" fill="#7B1414"/>
<circle cx="396" cy="778" r="7.5" fill="#7B1414"/>
<circle cx="425" cy="764" r="7.5" fill="#7B1414"/>
<circle cx="249" cy="817" r="7.5" fill="#7B1414"/>
<circle cx="296" cy="814" r="7.5" fill="#7B1414"/>
<circle cx="447" cy="838" r="7.5" fill="#7B1414"/>
<circle cx="502" cy="836" r="7.5" fill="#7B1414"/>
<circle cx="334" cy="855" r="7.5" fill="#7B1414"/>
<circle cx="444" cy="870" r="7.5" fill="#7B1414"/>
<circle cx="283" cy="873" r="7.5" fill="#7B1414"/>
<circle cx="383" cy="904" r="7.5" fill="#7B1414"/>
<circle cx="489" cy="907" r="7.5" fill="#7B1414"/>
<circle cx="539" cy="780" r="7.5" fill="#7B1414"/>
<circle cx="534" cy="804" r="7.5" fill="#7B1414"/>
<circle cx="584" cy="807" r="7.5" fill="#7B1414"/>
<circle cx="528" cy="859" r="7.5" fill="#7B1414"/>
<circle cx="576" cy="859" r="7.5" fill="#7B1414"/>
<circle cx="636" cy="769" r="7.5" fill="#7B1414"/>
<circle cx="642" cy="796" r="7.5" fill="#7B1414"/>
<circle cx="636" cy="820" r="7.5" fill="#7B1414"/>
<circle cx="787" cy="538" r="7.5" fill="#7B1414"/>
<circle cx="787" cy="587" r="7.5" fill="#7B1414"/>
<circle cx="752" cy="621" r="7.5" fill="#7B1414"/>
<circle cx="702" cy="627" r="7.5" fill="#7B1414"/>
<circle cx="655" cy="677" r="7.5" fill="#7B1414"/>
<circle cx="636" cy="696" r="7.5" fill="#7B1414"/>
<circle cx="716" cy="711" r="7.5" fill="#7B1414"/>
<circle cx="728" cy="735" r="7.5" fill="#7B1414"/>
<circle cx="665" cy="741" r="7.5" fill="#7B1414"/>
<circle cx="663" cy="761" r="7.5" fill="#7B1414"/>
<circle cx="692" cy="761" r="7.5" fill="#7B1414"/>
</g>
<g stroke-linecap="butt" stroke-linejoin="round">
<ellipse cx="979.2" cy="527.3" rx="22.4" ry="16.4" fill="#D2804E" stroke="#C5561F" stroke-width="1.3"/>
<ellipse cx="1020.9" cy="534.8" rx="19.4" ry="11.2" fill="#D2804E" stroke="#C5561F" stroke-width="1.3"/>
<ellipse cx="997.1" cy="524.3" rx="17.9" ry="13.4" fill="#D2804E" stroke="#C5561F" stroke-width="1.3"/>
<path d="M948.6,449.1 Q950.1,469.2 954.2,479.6 Q958.3,490.1 959.1,499.7 Q959.8,509.4 965.0,519.9 Q970.2,530.3 988.1,537.8" fill="none" stroke="#C5561F" stroke-width="15.9"/>
<circle cx="988.1" cy="537.8" r="7.7" fill="#C5561F"/>
<circle cx="988.1" cy="537.8" r="6.3" fill="#D2804E"/>
<path d="M948.6,449.1 Q950.1,469.2 954.2,479.6 Q958.3,490.1 959.1,499.7 Q959.8,509.4 965.0,519.9 Q970.2,530.3 988.1,537.8" fill="none" stroke="#D2804E" stroke-width="12.4"/>
<path d="M969.5,446.5 Q969.1,464.7 968.2,474.4 Q967.3,484.1 967.6,493.8 Q968.0,503.5 974.7,524.3" fill="none" stroke="#C5561F" stroke-width="15.9"/>
<circle cx="974.7" cy="524.3" r="7.7" fill="#C5561F"/>
<circle cx="974.7" cy="524.3" r="6.3" fill="#D2804E"/>
<path d="M969.5,446.5 Q969.1,464.7 968.2,474.4 Q967.3,484.1 967.6,493.8 Q968.0,503.5 974.7,524.3" fill="none" stroke="#D2804E" stroke-width="12.4"/>
<path d="M979.2,479.3 Q977.7,491.5 979.2,506.5" fill="none" stroke="#C5561F" stroke-width="15.9"/>
<circle cx="979.2" cy="506.5" r="7.7" fill="#C5561F"/>
<circle cx="979.2" cy="506.5" r="6.3" fill="#D2804E"/>
<path d="M979.2,479.3 Q977.7,491.5 979.2,506.5" fill="none" stroke="#D2804E" stroke-width="12.4"/>
<path d="M987.8,457.6 Q980.7,470.7 977.0,477.4 Q973.2,484.1 970.2,497.5" fill="none" stroke="#C5561F" stroke-width="15.9"/>
<circle cx="970.2" cy="497.5" r="7.7" fill="#C5561F"/>
<circle cx="970.2" cy="497.5" r="6.3" fill="#D2804E"/>
<path d="M987.8,457.6 Q980.7,470.7 977.0,477.4 Q973.2,484.1 970.2,497.5" fill="none" stroke="#D2804E" stroke-width="12.4"/>
<path d="M997.8,467.4 Q992.6,479.6 987.4,484.1 Q982.2,488.6 979.2,500.5" fill="none" stroke="#C5561F" stroke-width="15.9"/>
<circle cx="979.2" cy="500.5" r="7.7" fill="#C5561F"/>
<circle cx="979.2" cy="500.5" r="6.3" fill="#D2804E"/>
<path d="M997.8,467.4 Q992.6,479.6 987.4,484.1 Q982.2,488.6 979.2,500.5" fill="none" stroke="#D2804E" stroke-width="12.4"/>
<path d="M992.6,512.4 Q1007.5,503.5 1016.5,507.9 Q1025.4,512.4 1034.3,524.3" fill="none" stroke="#C5561F" stroke-width="15.9"/>
<circle cx="1034.3" cy="524.3" r="7.7" fill="#C5561F"/>
<circle cx="1034.3" cy="524.3" r="6.3" fill="#D2804E"/>
<path d="M992.6,512.4 Q1007.5,503.5 1016.5,507.9 Q1025.4,512.4 1034.3,524.3" fill="none" stroke="#D2804E" stroke-width="12.4"/>
<path d="M1016.5,470.4 Q1011.2,490.1 1006.4,496.8 Q1001.5,503.5 994.1,515.4" fill="none" stroke="#C5561F" stroke-width="15.9"/>
<circle cx="994.1" cy="515.4" r="7.7" fill="#C5561F"/>
<circle cx="994.1" cy="515.4" r="6.3" fill="#D2804E"/>
<path d="M1016.5,470.4 Q1011.2,490.1 1006.4,496.8 Q1001.5,503.5 994.1,515.4" fill="none" stroke="#D2804E" stroke-width="12.4"/>
<path d="M1025.4,488.3 Q1021.7,503.5 1025.4,515.4" fill="none" stroke="#C5561F" stroke-width="15.9"/>
<circle cx="1025.4" cy="515.4" r="7.7" fill="#C5561F"/>
<circle cx="1025.4" cy="515.4" r="6.3" fill="#D2804E"/>
<path d="M1025.4,488.3 Q1021.7,503.5 1025.4,515.4" fill="none" stroke="#D2804E" stroke-width="12.4"/>
<path d="M1044.5,479.6 Q1041.0,494.5 1037.7,502.0 Q1034.3,509.4 1032.8,521.4" fill="none" stroke="#C5561F" stroke-width="15.9"/>
<circle cx="1032.8" cy="521.4" r="7.7" fill="#C5561F"/>
<circle cx="1032.8" cy="521.4" r="6.3" fill="#D2804E"/>
<path d="M1044.5,479.6 Q1041.0,494.5 1037.7,502.0 Q1034.3,509.4 1032.8,521.4" fill="none" stroke="#D2804E" stroke-width="12.4"/>
<path d="M1054.5,489.8 Q1052.2,503.5 1047.8,521.4" fill="none" stroke="#C5561F" stroke-width="15.9"/>
<circle cx="1047.8" cy="521.4" r="7.7" fill="#C5561F"/>
<circle cx="1047.8" cy="521.4" r="6.3" fill="#D2804E"/>
<path d="M1054.5,489.8 Q1052.2,503.5 1047.8,521.4" fill="none" stroke="#D2804E" stroke-width="12.4"/>
<path d="M1051.0,506.5 Q1058.2,516.9 1073.1,516.9" fill="none" stroke="#C5561F" stroke-width="15.9"/>
<circle cx="1073.1" cy="516.9" r="7.7" fill="#C5561F"/>
<circle cx="1073.1" cy="516.9" r="6.3" fill="#D2804E"/>
<path d="M1051.0,506.5 Q1058.2,516.9 1073.1,516.9" fill="none" stroke="#D2804E" stroke-width="12.4"/>
<path d="M980.7,494.5 Q984.4,507.9 992.2,512.4 Q1000.1,516.9 1010.5,521.4 Q1020.9,525.8 1030.6,531.8 Q1040.3,537.8 1049.2,536.3 Q1058.2,534.8 1065.6,528.8 Q1073.1,522.8 1076.8,515.4 Q1080.5,507.9 1082.0,491.2" fill="none" stroke="#C5561F" stroke-width="15.9"/>
<path d="M980.7,494.5 Q984.4,507.9 992.2,512.4 Q1000.1,516.9 1010.5,521.4 Q1020.9,525.8 1030.6,531.8 Q1040.3,537.8 1049.2,536.3 Q1058.2,534.8 1065.6,528.8 Q1073.1,522.8 1076.8,515.4 Q1080.5,507.9 1082.0,491.2" fill="none" stroke="#D2804E" stroke-width="12.4"/>
<path d="M959.8,491.5 Q962.0,509.4 964.7,515.4 Q967.3,521.4 974.7,525.8" fill="none" stroke="#C5561F" stroke-width="1.2"/>
<path d="M982.2,509.4 Q997.1,518.4 1005.3,523.6 Q1013.5,528.8 1025.4,530.3" fill="none" stroke="#C5561F" stroke-width="1.2"/>
<path d="M1004.5,536.3 Q1001.5,527.3 1007.5,522.8" fill="none" stroke="#C5561F" stroke-width="1.2"/>
<path d="M1034.3,524.3 Q1043.3,533.3 1056.7,533.3" fill="none" stroke="#C5561F" stroke-width="1.2"/>
<path d="M986.6,500.5 Q1000.1,505.0 1013.5,509.4" fill="none" stroke="#C5561F" stroke-width="1.2"/>
<path d="M1031.4,515.4 Q1040.3,512.4 1044.8,507.9" fill="none" stroke="#C5561F" stroke-width="1.2"/>
<ellipse cx="948.6" cy="448.0" rx="7.2" ry="4.4" fill="#B35325"/>
<ellipse cx="969.5" cy="445.3" rx="7.2" ry="4.4" fill="#B35325"/>
<ellipse cx="987.8" cy="456.5" rx="7.2" ry="4.4" fill="#B35325"/>
<ellipse cx="997.8" cy="466.5" rx="7.2" ry="4.4" fill="#B35325"/>
<ellipse cx="979.2" cy="478.1" rx="7.2" ry="4.4" fill="#B35325"/>
<ellipse cx="980.7" cy="493.8" rx="7.2" ry="4.4" fill="#B35325"/>
<ellipse cx="1016.5" cy="469.2" rx="7.2" ry="4.4" fill="#B35325"/>
<ellipse cx="1025.4" cy="487.1" rx="7.2" ry="4.4" fill="#B35325"/>
<ellipse cx="1044.5" cy="478.4" rx="7.2" ry="4.4" fill="#B35325"/>
<ellipse cx="1054.5" cy="488.6" rx="7.2" ry="4.4" fill="#B35325"/>
<ellipse cx="1051.0" cy="505.7" rx="7.2" ry="4.4" fill="#B35325"/>
<ellipse cx="1082.0" cy="489.8" rx="7.2" ry="4.4" fill="#B35325"/>
<path d="M1056.7,531.8 Q1061.2,526.6 1066.4,526.1" fill="none" stroke="#F6E6D8" stroke-width="1.6"/>
</g>
<g stroke-linejoin="round" stroke-linecap="round">
<path d="M1209,456 C1209,465 1210,472 1211,478 C1213,488 1215,494 1217,499 C1220,505 1223,509 1228,513 C1232,517 1237,520 1242,520 C1247,520 1251,519 1255,517 C1259,514 1262,511 1265,508 C1270,507 1275,505 1279,502 C1284,497 1287,492 1289,486 C1292,477 1293,468 1294,459 C1296,447 1297,435 1298,424 C1299,416 1300,409 1300,402 C1300,398 1299,394 1297,391 L1262,398 L1245,440 Z" fill="#7AB56C" stroke="#3F9C4A" stroke-width="1"/>
<path d="M1251,475 C1251,482 1252,489 1254,495 C1256,499 1260,502 1265,503" fill="none" stroke="#4FA357" stroke-width="0.9"/>
<path d="M1212,459 C1220,459 1226,458 1231,456 C1237,453 1242,449 1246,445 C1250,440 1253,435 1255,429 C1257,423 1258,417 1259,411 C1260,407 1261,403 1261.5,400" fill="none" stroke="#0C6630" stroke-width="10.8"/>
<path d="M1277,389 C1276,394 1274,400 1272,406 C1271,410 1270,414 1269,418" fill="none" stroke="#0C6630" stroke-width="8.4"/>
<path d="M1217,474 C1223,472 1228,470 1233,467.5 C1240,464 1246,459 1251,454 C1255,449 1259,444 1262,438 C1264,433 1265,428 1266,424" fill="none" stroke="#0C6630" stroke-width="8.0"/>
<path d="M1224,490 C1230,486 1235,482 1240,477 C1246,471 1251,466 1256,459.5 C1261,453 1265,448 1269,441.6 C1272,436 1274,430 1276,424 C1278,418 1280,412 1281,406 C1283,401 1285,397 1288,394" fill="none" stroke="#0C6630" stroke-width="8.8"/>
<path d="M1255,471 C1259,465 1262,460 1265,454 C1270,446 1275,439 1279.5,432.6 C1284,427 1288,421 1292,417" fill="none" stroke="#0C6630" stroke-width="8.4"/>
<path d="M1212,459 C1220,459 1226,458 1231,456 C1237,453 1242,449 1246,445 C1250,440 1253,435 1255,429 C1257,423 1258,417 1259,411 C1260,407 1261,403 1261.5,400" fill="none" stroke="#159A48" stroke-width="8.8"/>
<path d="M1277,389 C1276,394 1274,400 1272,406 C1271,410 1270,414 1269,418" fill="none" stroke="#159A48" stroke-width="6.4"/>
<path d="M1217,474 C1223,472 1228,470 1233,467.5 C1240,464 1246,459 1251,454 C1255,449 1259,444 1262,438 C1264,433 1265,428 1266,424" fill="none" stroke="#159A48" stroke-width="6.0"/>
<path d="M1224,490 C1230,486 1235,482 1240,477 C1246,471 1251,466 1256,459.5 C1261,453 1265,448 1269,441.6 C1272,436 1274,430 1276,424 C1278,418 1280,412 1281,406 C1283,401 1285,397 1288,394" fill="none" stroke="#159A48" stroke-width="6.8"/>
<path d="M1255,471 C1259,465 1262,460 1265,454 C1270,446 1275,439 1279.5,432.6 C1284,427 1288,421 1292,417" fill="none" stroke="#159A48" stroke-width="6.4"/>
<circle cx="1224.5" cy="489.5" r="4.4" fill="#159A48"/>
<circle cx="1287.5" cy="394.5" r="4.6" fill="#159A48"/>
<circle cx="1255.5" cy="470.5" r="3.8" fill="#159A48"/>
<circle cx="1241" cy="428" r="4.2" fill="#80BF70" stroke="#56A657" stroke-width="0.9"/>
<circle cx="1293" cy="448.7" r="5.4" fill="#80BF70" stroke="#56A657" stroke-width="0.9"/>
<circle cx="1277.7" cy="494.7" r="5.4" fill="#80BF70" stroke="#56A657" stroke-width="0.9"/>
</g>
<g stroke="#BE4F7A" stroke-width="0.8" stroke-linejoin="round">
<path d="M1172.2,506 L1188.3,513 L1187.4,520.3 L1175.8,538.2 L1163.3,541.7 L1154.3,527.4 L1157.9,522 Z" fill="#E6A9C2"/>
<path d="M1176,509 L1162,527 M1181,511.5 L1167,531 M1185,514.5 L1172,535" fill="none"/>
<polygon points="1171.8,532.7 1166.2,532.6 1167.3,538.1 1163.4,534.1 1160.3,538.8 1160.4,533.2 1154.9,534.3 1158.9,530.4 1154.2,527.3 1159.8,527.4 1158.7,521.9 1162.6,525.9 1165.7,521.2 1165.6,526.8 1171.1,525.7 1167.1,529.6" fill="#D9799E"/>
<path d="M1176.7,501.5 L1183.8,493.4 L1207,494.3 L1211.6,498.8 L1213.3,513 L1202.6,519.4 L1188.3,513 Z" fill="#EAB4CA"/>
<path d="M1181,497.5 L1205,499.5 M1179,502.5 L1202,506 M1184,508.5 L1201,513.5" fill="none"/>
<polygon points="1216.6,508.4 1211.4,509.3 1213.4,514.2 1209.1,511.2 1207.1,516.1 1206.2,510.9 1201.3,512.9 1204.3,508.6 1199.4,506.6 1204.6,505.7 1202.6,500.8 1206.9,503.8 1208.9,498.9 1209.8,504.1 1214.7,502.1 1211.7,506.4" fill="#D9799E"/>
</g>
<g transform="translate(1318.5,255) rotate(81.5)">
<rect x="-34.0" y="-14.0" width="68" height="28" rx="14.0" fill="#D9574D" stroke="#B03A38" stroke-width="0.9"/>
<rect x="-31.8" y="-8.6" width="63.0" height="21.1" rx="10.55" fill="#fff"/>
<path d="M-24.5,0.4 L-19.1,7.2 L-13.6,-3.3 L-8.2,7.2 L-2.7,-3.3 L2.7,7.2 L8.2,-3.3 L13.6,7.2 L19.1,-3.3 L24.5,3.5" fill="none" stroke="#A42A1E" stroke-width="6.5" stroke-linecap="round" stroke-linejoin="round"/>
</g>
<g transform="translate(1332,339) rotate(-61)">
<rect x="-32.5" y="-15.0" width="65" height="30" rx="15.0" fill="#D9574D" stroke="#B03A38" stroke-width="0.9"/>
<rect x="-30.3" y="-13.5" width="60.0" height="23.1" rx="11.55" fill="#fff"/>
<path d="M-23.0,-3.8 L-17.9,4.3 L-12.8,-8.2 L-7.7,4.3 L-2.6,-8.2 L2.6,4.3 L7.7,-8.2 L12.8,4.3 L17.9,-8.2 L23.0,-0.1" fill="none" stroke="#A42A1E" stroke-width="6.5" stroke-linecap="round" stroke-linejoin="round"/>
</g>
<g transform="translate(1120.5,523.5) rotate(55.5)">
<rect x="-35.0" y="-15.0" width="70" height="30" rx="15.0" fill="#D9574D" stroke="#B03A38" stroke-width="0.9"/>
<rect x="-32.8" y="-13.5" width="65.0" height="23.1" rx="11.55" fill="#fff"/>
<path d="M-25.5,-3.8 L-19.8,4.3 L-14.2,-8.2 L-8.5,4.3 L-2.8,-8.2 L2.8,4.3 L8.5,-8.2 L14.2,4.3 L19.8,-8.2 L25.5,-0.1" fill="none" stroke="#A42A1E" stroke-width="6.5" stroke-linecap="round" stroke-linejoin="round"/>
</g>
<circle cx="1329" cy="234.5" r="2.7" fill="#7B1414"/>
<circle cx="1335" cy="260" r="2.7" fill="#7B1414"/>
<circle cx="1333" cy="281" r="2.7" fill="#7B1414"/>
<circle cx="1357.4" cy="270.5" r="2.7" fill="#7B1414"/>
<circle cx="1334.4" cy="313.4" r="2.7" fill="#7B1414"/>
<circle cx="1292" cy="323.5" r="2.7" fill="#7B1414"/>
<circle cx="1318" cy="400.8" r="2.7" fill="#7B1414"/>
<circle cx="1330" cy="396" r="2.7" fill="#7B1414"/>
<circle cx="1315" cy="414.4" r="2.7" fill="#7B1414"/>
<circle cx="1049" cy="202" r="2.7" fill="#7B1414"/>
<circle cx="1006" cy="282.5" r="2.7" fill="#7B1414"/>
<circle cx="1005.5" cy="295" r="2.7" fill="#7B1414"/>
<circle cx="993" cy="315.5" r="2.7" fill="#7B1414"/>

<g font-family="'Liberation Sans', Arial, Helvetica, sans-serif" font-size="33.3" fill="#231F20" transform="scale(1.047,1)">
<text x="540.2" y="276">Rough</text>
<text x="540.2" y="317.3">Endoplasmic</text>
<text x="540.2" y="358.6">Reticulum</text>
<text x="718" y="862.5">Ribosomes</text>
</g>
<g stroke="#231F20" stroke-width="3.2" fill="none">
<path d="M544,350 L328.7,474.1"/>
<path d="M758.7,350 L997.4,417"/>
<path d="M637.5,771 L748,845 L693,764"/>
<path d="M637.5,820.5 L748,845"/>
</g>
</svg>
</body></html>
